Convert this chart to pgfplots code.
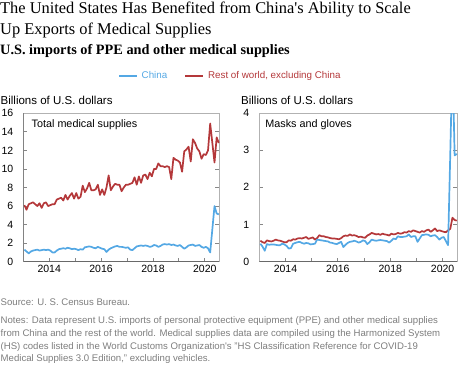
\documentclass[border=0pt]{standalone}
\usepackage{pgfplots}
\pgfplotsset{compat=1.18}
\usepackage{pgfplotstable}
\usepackage{fontspec}
\setmainfont{Liberation Sans}
\newfontfamily\seriffont{Liberation Serif}
\definecolor{cblue}{RGB}{84,168,228}
\definecolor{rred}{RGB}{180,56,58}
\definecolor{txtgray}{RGB}{125,125,125}
\definecolor{axdark}{RGB}{105,105,105}
\definecolor{axlight}{RGB}{178,178,178}

% m = month index (0 = Jan 2013); cT/rT = total medical supplies, cM/rM = masks and gloves (billions US$)
\pgfplotstableread{
m cT rT cM rM
0 1.30 6.1 0.48 0.56
1 1.10 5.6 0.40 0.52
2 0.90 6.2 0.29 0.50
3 1.10 6.3 0.47 0.57
4 1.20 6.4 0.45 0.55
5 1.25 6.2 0.46 0.54
6 1.30 6.0 0.46 0.56
7 1.20 6.3 0.45 0.59
8 1.25 5.8 0.44 0.57
9 1.30 6.3 0.44 0.56
10 1.25 6.4 0.48 0.54
11 1.30 6.0 0.46 0.52
12 1.20 6.1 0.42 0.52
13 1.00 6.2 0.35 0.57
14 1.00 6.2 0.36 0.56
15 1.20 6.7 0.48 0.60
16 1.35 6.8 0.50 0.59
17 1.40 6.9 0.52 0.62
18 1.45 6.6 0.53 0.63
19 1.40 7.2 0.50 0.62
20 1.50 6.7 0.48 0.64
21 1.45 7.1 0.50 0.66
22 1.35 7.4 0.49 0.61
23 1.40 6.8 0.46 0.63
24 1.35 7.4 0.47 0.65
25 1.25 6.8 0.48 0.59
26 1.35 7.0 0.59 0.63
27 1.30 8.2 0.58 0.71
28 1.55 7.5 0.57 0.68
29 1.60 7.9 0.56 0.68
30 1.65 8.5 0.55 0.66
31 1.60 7.7 0.54 0.65
32 1.50 7.7 0.51 0.63
33 1.45 7.8 0.50 0.62
34 1.60 8.3 0.48 0.62
35 1.50 7.2 0.47 0.61
36 1.40 7.8 0.50 0.60
37 1.35 7.2 0.53 0.63
38 1.05 8.0 0.39 0.68
39 1.30 9.3 0.45 0.70
40 1.45 7.7 0.50 0.69
41 1.55 8.1 0.53 0.73
42 1.65 8.4 0.54 0.70
43 1.70 8.3 0.56 0.71
44 1.60 8.3 0.54 0.69
45 1.60 7.6 0.51 0.66
46 1.55 8.0 0.53 0.67
47 1.50 8.3 0.57 0.65
48 1.55 8.3 0.55 0.64
49 1.30 8.4 0.47 0.70
50 1.25 8.5 0.52 0.73
51 1.45 9.1 0.59 0.77
52 1.65 8.3 0.57 0.75
53 1.70 9.2 0.56 0.73
54 1.75 8.5 0.57 0.74
55 1.70 9.3 0.58 0.72
56 1.75 9.4 0.57 0.75
57 1.70 8.9 0.56 0.73
58 1.60 9.6 0.55 0.72
59 1.65 9.2 0.51 0.70
60 1.80 10.0 0.56 0.75
61 1.75 10.0 0.62 0.73
62 1.60 10.6 0.60 0.74
63 1.70 10.3 0.68 0.77
64 1.85 10.3 0.66 0.75
65 1.90 10.2 0.66 0.76
66 1.85 10.3 0.67 0.79
67 1.90 10.2 0.68 0.78
68 1.80 8.9 0.73 0.82
69 1.85 11.2 0.66 0.80
70 1.75 11.0 0.68 0.84
71 1.70 10.9 0.68 0.82
72 1.80 10.7 0.53 0.80
73 1.60 9.7 0.62 0.78
74 1.40 11.9 0.71 0.82
75 1.55 12.1 0.72 0.80
76 1.75 12.4 0.73 0.84
77 1.80 10.8 0.72 0.86
78 1.85 13.2 0.68 0.80
79 1.70 12.8 0.70 0.84
80 1.75 12.2 0.71 0.89
81 1.80 11.9 0.66 0.82
82 1.60 11.1 0.59 0.84
83 1.50 11.6 0.64 0.82
84 1.60 11.5 0.66 0.80
85 1.45 12.0 0.55 0.79
86 1.00 14.9 0.44 0.84
87 3.50 12.8 2.90 0.88
88 6.00 10.7 5.50 1.18
89 5.20 13.4 2.86 1.12
90 5.10 12.8 2.90 1.10
}\datatab

\pgfplotsset{
  panel/.style={
    scale only axis,
    height=148.4pt,
    xmin=2013, xmax=2020.56,
    ymin=0,
    enlargelimits=false,
    xtick={2014,2015,2016,2017,2018,2019,2020},
    xticklabels={2014,,2016,,2018,,2020},
    tick align=inside,
    xtick pos=left,
    ytick pos=both,
    major tick length=4pt,
    every tick/.style={axdark!80, line width=0.8pt},
    axis line style={axlight, line width=1pt},
    tick label style={font=\fontsize{10.5}{12}\selectfont},
    yticklabel style={xshift=-6.5pt},
    /pgf/number format/assume math mode=true,
    every axis plot/.append style={line width=1.7pt, line join=round, no markers},
    clip=true,
  }
}

\begin{document}
\begin{tikzpicture}
\path[use as bounding box] (0,0) rectangle (460pt,-364pt);

% titles
\node[anchor=base west, inner sep=0, font=\seriffont\fontsize{16.4}{19}\selectfont] at (0,-13.3pt)
  {The United States Has Benefited from China\textquotesingle s Ability to Scale};
\node[anchor=base west, inner sep=0, font=\seriffont\fontsize{16.4}{19}\selectfont] at (0,-34.3pt)
  {Up Exports of Medical Supplies};
\node[anchor=base west, inner sep=0, font=\seriffont\bfseries\fontsize{14.3}{16}\selectfont] at (0,-54.3pt)
  {U.S. imports of PPE and other medical supplies};

% unit labels
\node[anchor=base west, inner sep=0, font=\fontsize{11.5}{13}\selectfont] at (0.5pt,-104.2pt) {Billions of U.S. dollars};
\node[anchor=base west, inner sep=0, font=\fontsize{11.5}{13}\selectfont] at (241pt,-104.2pt) {Billions of U.S. dollars};

% left panel
\begin{axis}[panel,
  at={(23.3pt,-261.7pt)}, anchor=south west,
  width=196pt,
  ymax=16,
  ytick={0,2,4,6,8,10,12,14,16},
  legend columns=2,
  legend style={at={(0.4832,1.251)}, anchor=west, draw=none, fill=none,
    inner sep=0pt, font=\fontsize{9.8}{11}\selectfont,
    /tikz/every odd column/.append style={column sep=1.8pt},
    /tikz/every even column/.append style={column sep=15.3pt}},
  legend image code/.code={\draw[#1] (0pt,0pt) -- (18pt,0pt);},
]
\addlegendimage{cblue, line width=1.7pt}
\addlegendentry{\textcolor{cblue}{China}}
\addlegendimage{rred, line width=1.7pt}
\addlegendentry{\textcolor{rred}{Rest of world, excluding China}}
\addplot[rred, forget plot] table[x expr=2013+(\thisrow{m}+0.5)/12, y=rT] {\datatab};
\addplot[cblue, forget plot] table[x expr=2013+(\thisrow{m}+0.5)/12, y=cT] {\datatab};
\draw[axdark, line width=1pt] (rel axis cs:0,1) -- (rel axis cs:0,0) -- (rel axis cs:1,0);
\end{axis}

% right panel
\begin{axis}[panel,
  at={(259.3pt,-261.5pt)}, anchor=south west,
  width=198pt,
  ymax=4,
  ytick={0,1,2,3,4},
]
\addplot[rred] table[x expr=2013+(\thisrow{m}+0.5)/12, y=rM] {\datatab};
\addplot[cblue] table[x expr=2013+(\thisrow{m}+0.5)/12, y=cM] {\datatab};
\draw[axdark, line width=1pt] (rel axis cs:0,0) -- (rel axis cs:1,0);
\end{axis}

% panel labels
\node[anchor=base west, inner sep=0, font=\fontsize{10.8}{12}\selectfont] at (31.5pt,-127.7pt) {Total medical supplies};
\node[anchor=base west, inner sep=0, font=\fontsize{10.8}{12}\selectfont] at (265.2pt,-127.7pt) {Masks and gloves};

% source and notes
\begin{scope}[every node/.style={anchor=base west, inner sep=0, text=txtgray, font=\fontsize{9.6}{11}\selectfont}]
\node at (0.5pt,-305pt) {Source: U. S. Census Bureau.};
\node at (0.5pt,-323.8pt) {Notes: Data represent U.S. imports of personal protective equipment (PPE) and other medical supplies};
\node at (0.5pt,-336.4pt) {from China and the rest of the world. Medical supplies data are compiled using the Harmonized System};
\node at (0.5pt,-349pt) {(HS) codes listed in the World Customs Organization\textquotesingle s "HS Classification Reference for COVID-19};
\node at (0.5pt,-361.3pt) {Medical Supplies 3.0 Edition," excluding vehicles.};
\end{scope}
\end{tikzpicture}
\end{document}
